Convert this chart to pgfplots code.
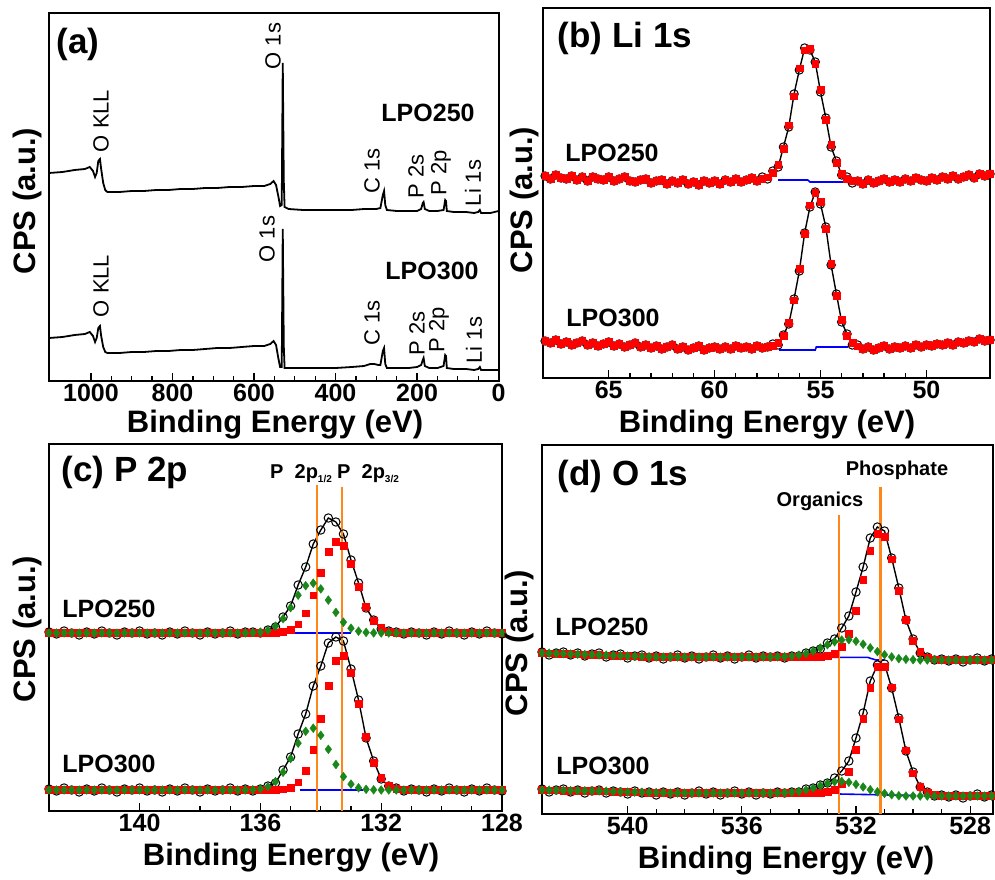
\documentclass[border=0pt]{standalone}
\usepackage{fontspec}
\setmainfont{Liberation Sans}
\usepackage{pgfplots}
\usepackage{pgfplotstable}
\pgfplotsset{compat=1.18}
\definecolor{xgreen}{RGB}{25,135,25}
\definecolor{xorange}{RGB}{255,135,25}
\definecolor{xblue}{RGB}{0,0,255}
\newcommand{\fTk}{\bfseries\fontsize{25}{25}\selectfont}
\newcommand{\fLab}{\bfseries\fontsize{31}{31}\selectfont}
\newcommand{\fPan}{\bfseries\fontsize{35}{35}\selectfont}
\newcommand{\fSmp}{\bfseries\fontsize{25}{25}\selectfont}
\newcommand{\fPk}{\fontsize{22}{22}\selectfont}
\newcommand{\fAnn}{\bfseries\fontsize{20}{20}\selectfont}
\pgfplotsset{
  xps/.style={scale only axis, x dir=reverse, ymin=0, ytick=\empty,
    tick align=inside, tick pos=left,
    axis line style={line width=1.6pt},
    tick style={line width=1.3pt, black},
    major tick length=8pt, minor tick length=5pt,
    xticklabel style={font=\fTk},
    /pgf/number format/assume math mode=true,
    /pgf/number format/1000 sep={}},
  raw/.style={black, line width=1.4pt, mark=o, mark size=4.2pt, mark options={line width=1pt, solid}},
  fitr/.style={only marks, mark=square*, mark size=3.4pt, red},
  fitg/.style={only marks, mark=diamond*, mark size=4.4pt, xgreen},
  bgl/.style={xblue, line width=1.6pt, no markers},
  orl/.style={xorange, line width=2.2pt, no markers},
}
% ---------- (b) Li 1s ----------
\pgfplotstableread{
x raw fit
68.0 202 202
67.75 199 199
67.5 203 203
67.25 200 200
67.0 199 199
66.75 202 202
66.5 198 198
66.25 201 201
66.0 197 197
65.75 201 201
65.5 199 199
65.25 198 198
65.0 201 201
64.75 197 197
64.5 199 199
64.25 201 201
64.0 197 197
63.75 196 196
63.5 198 198
63.25 199 199
63.0 195 195
62.75 197 197
62.5 198 198
62.25 194 194
62.0 197 197
61.75 195 195
61.5 198 198
61.25 194 194
61.0 196 196
60.75 193 193
60.5 197 197
60.25 195 195
60.0 197 197
59.75 194 194
59.5 198 198
59.25 196 196
59.0 199 199
58.75 196 196
58.5 198 198
58.25 200 200
58.0 197 197
57.75 201 198.9
57.5 199 200.7
57.25 207 205.1
57.0 211 213.1
56.75 231 229.0
56.5 251 252.7
56.25 284 281.8
56.0 308 309.7
55.75 330 327.8
55.5 328 329.5
55.25 316 314.4
55.0 286 287.9
54.75 260 258.4
54.5 231 233.2
54.25 217 215.6
54.0 203 204.4
53.75 201 199.3
53.5 195 197.1
53.25 197 197
53.0 194 194
52.75 198 198
52.5 195 195
52.25 197 197
52.0 199 199
51.75 196 196
51.5 198 198
51.25 196 196
51.0 199 199
50.75 197 197
50.5 200 200
50.25 198 198
50.0 197 197
49.75 200 200
49.5 198 198
49.25 201 201
49.0 199 199
48.75 202 202
48.5 199 199
48.25 201 201
48.0 203 203
47.75 200 200
47.5 204 204
47.25 202 202
47.0 204 204
}\tabBa
\pgfplotstableread{
x raw fit
68.0 37 37
67.75 35 35
67.5 38 38
67.25 34 34
67.0 36 36
66.75 33 33
66.5 35 35
66.25 37 37
66.0 33 33
65.75 35 35
65.5 32 32
65.25 34 34
65.0 36 36
64.75 32 32
64.5 34 34
64.25 31 31
64.0 33 33
63.75 35 35
63.5 31 31
63.25 33 33
63.0 30 30
62.75 32 32
62.5 29 29
62.25 31 31
62.0 33 33
61.75 29 29
61.5 31 31
61.25 28 28
61.0 30 30
60.75 32 32
60.5 28 28
60.25 30 30
60.0 31 31
59.75 29 29
59.5 31 31
59.25 29 29
59.0 32 32
58.75 30 30
58.5 31 31
58.25 29 29
58.0 32 32
57.75 30 30
57.5 31 31
57.25 34 32.4
57.0 33 35.2
56.75 43 41.9
56.5 54 55.2
56.25 79 77.7
56.0 107 108.9
55.75 145 143.9
55.5 171 172.7
55.25 186 184.9
55.0 174 175.9
54.75 151 149.3
54.5 113 114.5
54.25 84 82.1
54.0 56 58.1
53.75 44 42.5
53.5 33 35.0
53.25 33 31.7
53.0 29 29
52.75 31 31
52.5 28 28
52.25 30 30
52.0 32 32
51.75 29 29
51.5 31 31
51.25 30 30
51.0 32 32
50.75 30 30
50.5 33 33
50.25 31 31
50.0 33 33
49.75 32 32
49.5 34 34
49.25 33 33
49.0 35 35
48.75 33 33
48.5 36 36
48.25 35 35
48.0 37 37
47.75 36 36
47.5 39 39
47.25 37 37
47.0 38 38
}\tabBb
% ---------- (c) P 2p ----------
\pgfplotstableread{
x raw red green
143.0 179 178 178
142.75 177 178 178
142.5 180 178 178
142.25 178 178 178
142.0 176 178 178
141.75 179 178 178
141.5 177 178 178
141.25 180 178 178
141.0 178 178 178
140.75 176 178 178
140.5 179 178 178
140.25 178 178 178
140.0 180 178 178
139.75 177 178 178
139.5 178 178 178
139.25 176 178 178
139.0 179 178 178
138.75 177 178 178
138.5 180 178 178
138.25 178 178 178
138.0 176 178 178
137.75 179 178 178
137.5 177 178 178
137.25 178 178 178
137.0 180 178 178
136.75 177 178 178
136.5 179 178 178
136.25 179 178 178.3
136.0 178 178 178.9
135.75 181 178.1 180.7
135.5 184 178.3 184.8
135.25 194 179.0 192.3
135.0 205 181.3 203.3
134.75 226 186.8 215.8
134.5 244 197.9 225.3
134.25 267 215.8 227.8
134.0 281 238.4 222.1
133.75 293 259.2 210.9
133.5 289 269.7 198.6
133.25 277 265.0 188.8
133.0 251 247.5 182.8
132.75 228 224.6 179.8
132.5 203 204.3 178.6
132.25 191 190.4 178.1
132.0 182 183.0 178
131.75 180 179.7 178
131.5 179 178.5 178
131.25 177 178.1 178
131.0 179 178 178
130.75 178 178 178
130.5 176 178 178
130.25 179 178 178
130.0 177 178 178
129.75 180 178 178
129.5 178 178 178
129.25 176 178 178
129.0 179 178 178
128.75 177 178 178
128.5 180 178 178
128.25 178 178 178
128.0 177 178 178
}\tabCa
\pgfplotstableread{
x raw red green
143.0 22 21 21
142.75 20 21 21
142.5 23 21 21
142.25 21 21 21
142.0 19 21 21
141.75 22 21 21
141.5 20 21 21
141.25 23 21 21
141.0 21 21 21
140.75 19 21 21
140.5 22 21 21
140.25 21 21 21
140.0 23 21 21
139.75 20 21 21
139.5 21 21 21
139.25 19 21 21
139.0 22 21 21
138.75 20 21 21
138.5 23 21 21
138.25 21 21 21
138.0 19 21 21
137.75 22 21 21
137.5 20 21 21
137.25 21 21 21
137.0 23 21 21
136.75 20 21 21
136.5 22 21 21
136.25 20 21 21.3
136.0 22 21 22.1
135.75 25 21 24.3
135.5 28 21.2 29.4
135.25 41 21.8 38.7
135.0 54 23.7 52.4
134.75 77 28.9 67.8
134.5 97 40.5 79.7
134.25 125 61.6 82.8
134.0 145 92.0 75.7
133.75 168 125.5 61.7
133.5 174 150.1 46.5
133.25 170 155.1 34.4
133.0 142 138.0 26.9
132.75 111 107.0 23.2
132.5 73 74.1 21.7
132.25 50 48.5 21.2
132.0 32 33.0 21
131.75 25 25.4 21
131.5 23 22.4 21
131.25 20 21.4 21
131.0 22 21.1 21
130.75 21 21 21
130.5 19 21 21
130.25 22 21 21
130.0 20 21 21
129.75 23 21 21
129.5 21 21 21
129.25 19 21 21
129.0 22 21 21
128.75 20 21 21
128.5 23 21 21
128.25 21 21 21
128.0 20 21 21
}\tabCb
% ---------- (d) O 1s ----------
\pgfplotstableread{
x raw red green
543.0 162 161 161
542.75 159 160.8 160.8
542.5 161 160.5 160.5
542.25 162 160.3 160.3
542.0 159 160 160
541.75 161 159.8 159.8
541.5 158 159.5 159.5
541.25 160 159.3 159.3
541.0 161 159 159
540.75 157 158.8 158.8
540.5 159 158.5 158.5
540.25 160 158.3 158.3
540.0 156 158 158
539.75 158 157.8 157.8
539.5 159 157.5 157.5
539.25 156 157.3 157.3
539.0 158 157 157
538.75 155 157 157
538.5 157 157 157
538.25 159 157 157
538.0 156 157 157
537.75 158 157 157
537.5 155 157 157
537.25 157 157 157
537.0 159 157 157
536.75 156 157 157
536.5 158 157 157
536.25 155 157 157
536.0 157 157 157
535.75 159 157 157
535.5 156 157 157
535.25 158 157 157
535.0 157 157 157.1
534.75 158 157 157.2
534.5 156 157 157.4
534.25 158 157 157.9
534.0 158 157 158.9
533.75 161 157 160.5
533.5 163 157 162.9
533.25 165 157.3 165.9
533.0 171 158.2 169.3
532.75 175 160.6 172.2
532.5 186 167.1 174.0
532.25 198 180.7 174.3
532.0 222 203.6 172.8
531.75 247 234.0 169.8
531.5 276 263.4 166.1
531.25 287 280.4 162.4
531.0 283 277.1 159.3
530.75 256 254.9 157.1
530.5 226 223.3 155.4
530.25 194 194.2 154.7
530.0 175 173.6 154.3
529.75 161 162.0 154
529.5 157 156.8 154
529.25 154 154.8 154
529.0 155 154.2 154
528.75 153 154 154
528.5 155 154 154
528.25 152 154 154
528.0 154 154 154
527.75 156 154 154
527.5 153 154 154
527.25 155 154 154
}\tabDa
\pgfplotstableread{
x raw red green
543.0 25 24 24
542.75 22 23.9 23.9
542.5 24 23.8 23.8
542.25 25 23.6 23.6
542.0 22 23.5 23.5
541.75 24 23.4 23.4
541.5 21 23.2 23.2
541.25 23 23.1 23.1
541.0 24 23 23
540.75 21 22.8 22.8
540.5 23 22.5 22.5
540.25 22 22.3 22.3
540.0 20 22 22
539.75 23 21.9 21.9
539.5 21 21.8 21.8
539.25 22 21.6 21.6
539.0 19 21.5 21.5
538.75 22 21.3 21.3
538.5 20 21 21
538.25 22 21 21
538.0 19 21 21
537.75 21 21 21
537.5 23 21 21
537.25 20 21 21
537.0 22 21 21
536.75 19 21 21
536.5 21 21 21
536.25 23 21 21
536.0 20 21 21
535.75 22 21 21
535.5 19 21 21
535.25 21 21 21
535.0 20 21 21
534.75 22 21 21.1
534.5 21 21 21.3
534.25 22 21 21.8
534.0 22 21 22.6
533.75 25 21 24.0
533.5 26 21 25.9
533.25 29 21.2 28.3
533.0 31 22.0 30.6
532.75 36 24.1 32.2
532.5 43 29.9 32.6
532.25 53 42.6 31.7
532.0 76 64.7 29.6
531.75 101 95.2 27.0
531.5 133 126.6 24.3
531.25 149 147.2 22.2
531.0 150 147.4 20.6
530.75 126 126.8 19.3
530.5 96 94.8 18.3
530.25 63 63.8 18
530.0 42 40.9 18
529.75 27 27.7 18
529.5 22 21.4 18
529.25 18 19.0 18
529.0 19 18.2 18
528.75 17 18 18
528.5 19 18 18
528.25 16 18 18
528.0 18 18 18
527.75 20 18 18
527.5 17 18 18
527.25 19 18 18
}\tabDb
\begin{document}
\begin{tikzpicture}
\useasboundingbox (0pt,0pt) rectangle (995pt,879pt);
% ================= (a) survey =================
\begin{axis}[xps, at={(49pt,498pt)}, anchor=south west,
  width=450pt, height=368pt, xmin=-1, xmax=1103, ymax=368,
  xtick={0,200,400,600,800,1000}, minor x tick num=3]
\addplot[black, line width=1.8pt, no markers] coordinates {
(1103,208) (1070,209) (1040,211) (1015,212) (1003,214) (995,210) (990,204) (986,208) (982,220) (978,222) (975,212) (970,198) (965,191) (960,189) (930,189) (900,190) (870,190) (840,191) (810,191) (780,192) (750,192) (720,193) (690,193) (660,194) (630,194) (600,195) (575,195) (560,197) (552,200) (546,196) (540,184) (536,175) (532,176) (529.5,318) (527,200) (525,174) (515,172) (480,171) (440,171) (400,171) (360,171) (330,172) (315,172) (300,172) (290,173) (284,186) (281,190) (278,176) (274,171) (250,170) (220,170) (200,170) (190,172) (186,178) (184,179) (181,172) (170,170) (150,170) (135,171) (131,181) (129,180) (127,170) (110,169) (80,169) (60,168) (50,169) (46,171) (43,168) (20,168) (0,170)};
\addplot[black, line width=1.8pt, no markers] coordinates {
(1103,43) (1070,44) (1040,46) (1015,47) (1003,49) (995,45) (990,39) (986,43) (982,53) (978,55) (975,45) (970,34) (965,29) (960,28) (930,28) (900,29) (870,29) (840,30) (810,30) (780,31) (750,31) (720,32) (690,33) (660,33) (630,34) (600,35) (575,35) (560,37) (552,40) (546,36) (540,22) (536,14) (532,14) (529.5,152) (527,35) (525,13) (515,13) (480,13) (440,13) (400,13) (360,14) (330,15) (315,17) (305,17) (295,16) (290,16) (284,30) (281,33) (278,17) (274,13) (250,13) (220,13) (200,14) (190,16) (186,21) (184,23) (181,15) (170,13) (150,13) (135,15) (131,26) (129,25) (127,13) (110,12) (80,12) (60,11) (50,12) (46,14) (43,11) (20,11) (0,11)};
\end{axis}
% ================= (b) Li 1s =================
\begin{axis}[xps, at={(543pt,501pt)}, anchor=south west,
  width=447pt, height=370pt, xmin=47, xmax=68.1, ymax=370,
  xtick={50,55,60,65}, minor x tick num=4]
\addplot[raw] table[x index=0, y index=1] {\tabBa};
\addplot[fitr] table[x index=0, y index=2] {\tabBa};
\addplot[bgl] coordinates {(57.0,198) (55.6,198) (55.5,196) (53.8,196)};
\addplot[raw] table[x index=0, y index=1] {\tabBb};
\addplot[fitr] table[x index=0, y index=2] {\tabBb};
\addplot[bgl] coordinates {(56.96,28) (55.25,28) (55.2,31) (53.7,31)};
\end{axis}
% ================= (c) P 2p =================
\begin{axis}[xps, at={(49pt,68pt)}, anchor=south west,
  width=453pt, height=367pt, xmin=128, xmax=143, ymax=367,
  xtick={128,132,136,140}, minor x tick num=3]
\addplot[raw] table[x index=0, y index=1] {\tabCa};
\addplot[fitr] table[x index=0, y index=2] {\tabCa};
\addplot[fitg] table[x index=0, y index=3] {\tabCa};
\addplot[bgl] coordinates {(134.98,178) (132.99,178)};
\addplot[raw] table[x index=0, y index=1] {\tabCb};
\addplot[fitr] table[x index=0, y index=2] {\tabCb};
\addplot[fitg] table[x index=0, y index=3] {\tabCb};
\addplot[bgl] coordinates {(134.7,21) (132.6,21)};
\addplot[orl] coordinates {(134.12,0) (134.12,326)};
\addplot[orl] coordinates {(133.29,0) (133.29,324)};
\end{axis}
% ================= (d) O 1s =================
\begin{axis}[xps, at={(542pt,65pt)}, anchor=south west,
  width=451pt, height=369pt, xmin=527.2, xmax=543, ymax=369,
  xtick={528,532,536,540}, minor x tick num=3]
\addplot[raw] table[x index=0, y index=1] {\tabDa};
\addplot[fitr] table[x index=0, y index=2] {\tabDa};
\addplot[fitg] table[x index=0, y index=3] {\tabDa};
\addplot[bgl] coordinates {(532.88,156.7) (531.6,156.7) (531.3,154) (531.0,154)};
\addplot[raw] table[x index=0, y index=1] {\tabDb};
\addplot[fitr] table[x index=0, y index=2] {\tabDb};
\addplot[fitg] table[x index=0, y index=3] {\tabDb};
\addplot[bgl] coordinates {(532.6,20) (529.9,18.5)};
\addplot[orl] coordinates {(532.60,0) (532.60,299)};
\addplot[orl] coordinates {(531.14,0) (531.14,327)};
\end{axis}
% ================= text =================
\begin{scope}[every node/.style={inner sep=0pt}]
% (a)
\node[font=\fPan] at (78pt,835pt) {(a)};
\node[font=\fPk, rotate=90] at (273pt,833pt) {O 1s};
\node[font=\fPk, rotate=90] at (101pt,758pt) {O KLL};
\node[font=\fSmp] at (428pt,766pt) {LPO250};
\node[font=\fPk, rotate=90] at (372pt,708pt) {C 1s};
\node[font=\fPk, rotate=90] at (416pt,703pt) {P 2s};
\node[font=\fPk, rotate=90] at (441pt,706pt) {P 2p};
\node[font=\fPk, rotate=90] at (473pt,696pt) {Li 1s};
\node[font=\fPk, rotate=90] at (267pt,640pt) {O 1s};
\node[font=\fPk, rotate=90] at (101pt,593pt) {O KLL};
\node[font=\fSmp] at (432pt,608pt) {LPO300};
\node[font=\fPk, rotate=90] at (372pt,556pt) {C 1s};
\node[font=\fPk, rotate=90] at (417pt,546pt) {P 2s};
\node[font=\fPk, rotate=90] at (439pt,549pt) {P 2p};
\node[font=\fPk, rotate=90] at (474pt,539pt) {Li 1s};
\node[font=\fLab] at (275pt,454pt) {Binding Energy (eV)};
\node[font=\fLab, rotate=90] at (27pt,678pt) {CPS (a.u.)};
% (b)
\node[font=\fPan] at (625pt,841pt) {(b) Li 1s};
\node[font=\fSmp] at (612pt,726pt) {LPO250};
\node[font=\fSmp] at (613pt,561pt) {LPO300};
\node[font=\fLab] at (767pt,454pt) {Binding Energy (eV)};
\node[font=\fLab, rotate=90] at (524pt,679pt) {CPS (a.u.)};
% (c)
\node[font=\fPan] at (125pt,407pt) {(c) P 2p};
\node[font=\fAnn, anchor=base west] at (270pt,401pt) {P\ \ 2p\raisebox{-5pt}{\fontsize{10}{10}\selectfont 1/2}};
\node[font=\fAnn, anchor=base west] at (337pt,401pt) {P\ \ 2p\raisebox{-5pt}{\fontsize{10}{10}\selectfont 3/2}};
\node[font=\fSmp] at (109pt,270pt) {LPO250};
\node[font=\fSmp] at (109pt,115pt) {LPO300};
\node[font=\fLab] at (291pt,21pt) {Binding Energy (eV)};
\node[font=\fLab, rotate=90] at (27pt,250pt) {CPS (a.u.)};
% (d)
\node[font=\fPan] at (623pt,403pt) {(d) O 1s};
\node[font=\fAnn, anchor=base] at (897pt,403pt) {Phosphate};
\node[font=\fAnn, anchor=base] at (820pt,373pt) {Organics};
\node[font=\fSmp] at (602pt,252pt) {LPO250};
\node[font=\fSmp] at (603pt,113pt) {LPO300};
\node[font=\fLab] at (786pt,18pt) {Binding Energy (eV)};
\node[font=\fLab, rotate=90] at (519pt,236pt) {CPS (a.u.)};
\end{scope}
\end{tikzpicture}
\end{document}
